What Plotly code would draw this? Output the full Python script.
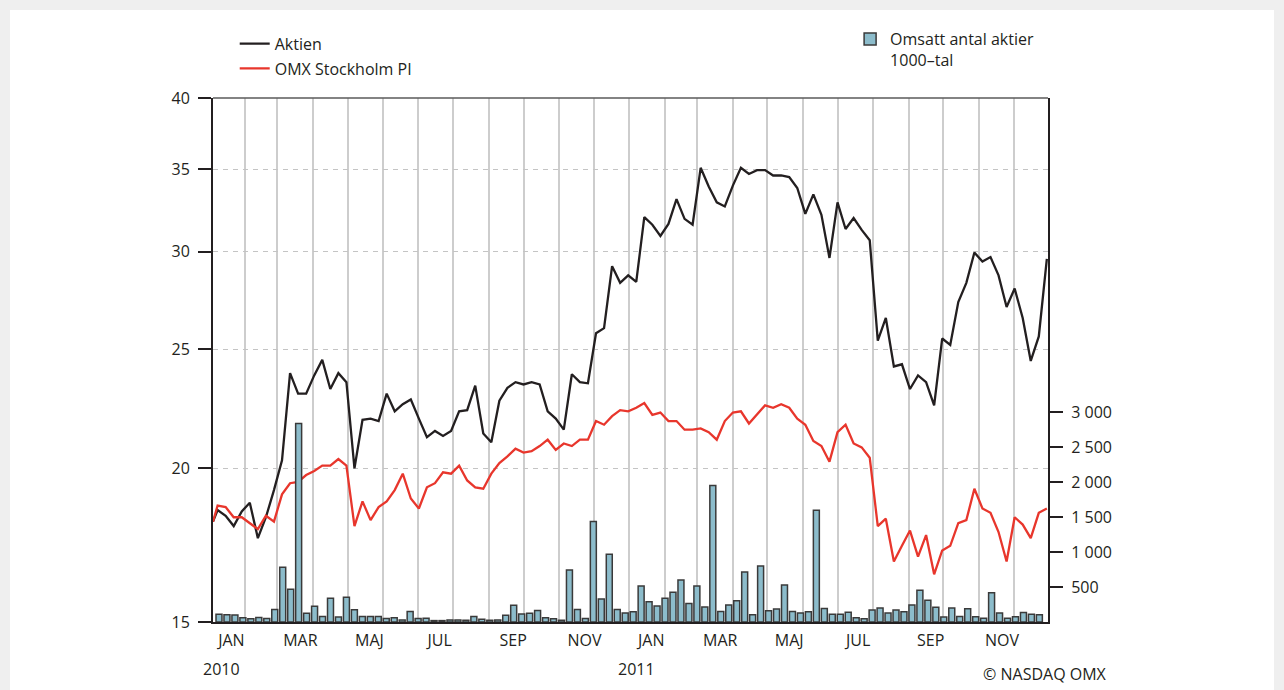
import math
import pandas as pd
import plotly.graph_objects as go

# ---------------- data ----------------
# weekly closes: first trading day 2010 + every Friday to end of 2011
line_dates = [pd.Timestamp("2010-01-04")] + list(pd.date_range("2010-01-08", "2011-12-30", freq="7D"))

aktien = [18.1, 18.5, 18.3, 17.95, 18.45, 18.75, 17.55, 18.25, 19.2, 20.3,
          23.9, 23.0, 23.0, 23.8, 24.5, 23.2, 23.9, 23.5, 20.0, 21.9,
          21.95, 21.85, 23.0, 22.25, 22.55, 22.75, 21.95, 21.2, 21.45, 21.25,
          21.45, 22.25, 22.3, 23.35, 21.35, 21.0, 22.7, 23.25, 23.5, 23.4,
          23.5, 23.4, 22.25, 21.95, 21.5, 23.85, 23.5, 23.45, 25.75, 26.0,
          29.2, 28.3, 28.7, 28.35, 32.0, 31.55, 30.9, 31.6, 33.1, 31.9,
          31.55, 35.1, 33.9, 32.9, 32.65, 33.95, 35.1, 34.7, 34.95, 34.95,
          34.6, 34.6, 34.5, 33.8, 32.2, 33.4, 32.15, 29.65, 32.9, 31.3,
          31.95, 31.25, 30.65, 25.4, 26.5, 24.2, 24.3, 23.2, 23.8, 23.5,
          22.5, 25.5, 25.2, 27.3, 28.3, 29.95, 29.45, 29.7, 28.7, 27.05,
          28.0, 26.5, 24.45, 25.6, 29.6]

omx = [18.1, 18.65, 18.6, 18.25, 18.25, 18.05, 17.85, 18.3, 18.1, 19.05,
       19.45, 19.5, 19.75, 19.9, 20.1, 20.1, 20.35, 20.1, 17.95, 18.8,
       18.15, 18.6, 18.8, 19.2, 19.8, 18.9, 18.55, 19.3, 19.45, 19.85,
       19.8, 20.1, 19.55, 19.3, 19.25, 19.8, 20.2, 20.45, 20.75, 20.6,
       20.65, 20.85, 21.1, 20.7, 20.95, 20.85, 21.1, 21.1, 21.85, 21.7,
       22.05, 22.3, 22.25, 22.4, 22.6, 22.1, 22.2, 21.85, 21.85, 21.5,
       21.5, 21.55, 21.4, 21.1, 21.85, 22.2, 22.25, 21.75, 22.1, 22.5,
       22.4, 22.55, 22.4, 21.95, 21.7, 21.05, 20.85, 20.25, 21.4, 21.7,
       20.95, 20.8, 20.4, 17.95, 18.2, 16.8, 17.3, 17.8, 16.95, 17.65,
       16.4, 17.15, 17.3, 18.05, 18.15, 19.25, 18.55, 18.4, 17.75, 16.8,
       18.25, 18.0, 17.55, 18.4, 18.55]

# weekly turnover (thousands of shares)
bar_dates = pd.date_range("2010-01-09 05:00", "2011-12-23 12:00", periods=104)
volume = [110, 105, 100, 60, 45, 65, 50, 180, 785, 470,
          2840, 125, 225, 80, 340, 70, 355, 175, 80, 80,
          80, 50, 60, 30, 150, 50, 55, 20, 20, 30,
          30, 25, 80, 40, 25, 30, 95, 240, 115, 125,
          165, 60, 45, 25, 745, 180, 50, 1440, 330, 970,
          180, 130, 145, 515, 290, 230, 340, 425, 600, 265,
          515, 215, 1955, 150, 245, 305, 715, 105, 800, 160,
          185, 530, 150, 130, 145, 1600, 195, 110, 110, 140,
          60, 45, 170, 200, 130, 170, 145, 245, 455, 310,
          210, 70, 200, 80, 190, 75, 55, 420, 130, 55,
          75, 135, 110, 105]

month_text = ["JAN", "MAR", "MAJ", "JUL", "SEP", "NOV"] * 2
month_pos = ["2010-01-20", "2010-03-21", "2010-05-20", "2010-07-20", "2010-09-22", "2010-11-23",
             "2011-01-20", "2011-03-21", "2011-05-20", "2011-07-19", "2011-09-20", "2011-11-21"]
left_ticks = [15, 20, 25, 30, 35, 40]
right_ticks = [500, 1000, 1500, 2000, 2500, 3000]
right_text = ["500", "1 000", "1 500", "2 000", "2 500", "3 000"]

# ---------------- figure ----------------
INK = "#231f20"
FONT = "Open Sans"
FS = 16

fig = go.Figure()
fig.add_trace(go.Bar(
    x=bar_dates, y=volume, yaxis="y2",
    name="Omsatt antal aktier<br>1000\u2013tal",
    marker=dict(color="#8cbccb", line=dict(color="#3a3a3a", width=1.5)),
    legend="legend2",
))
fig.add_trace(go.Scatter(
    x=line_dates, y=aktien, mode="lines", name="Aktien",
    line=dict(color=INK, width=2.3), legendgroup="a",
))
fig.add_trace(go.Scatter(
    x=line_dates, y=omx, mode="lines", name="OMX Stockholm PI",
    line=dict(color="#e8362c", width=2.3), legendgroup="b",
))

fig.update_layout(
    width=1284, height=690, autosize=False,
    margin=dict(l=213, r=236, t=98, b=68),
    paper_bgcolor="#efefef", plot_bgcolor="white",
    font=dict(family=FONT, size=FS, color=INK),
    bargap=0.25,
    showlegend=True,
    legend=dict(x=0.026, y=1.136, xanchor="left", yanchor="top",
                bgcolor="rgba(0,0,0,0)", tracegroupgap=1,
                font=dict(family=FONT, size=FS, color=INK)),
    legend2=dict(x=0.763, y=1.145, xanchor="left", yanchor="top",
                 bgcolor="rgba(0,0,0,0)", valign="top",
                 font=dict(family=FONT, size=FS, color=INK)),
    xaxis=dict(
        type="date", range=["2010-01-04", "2011-12-31"],
        tickmode="array", tickvals=month_pos, ticktext=month_text,
        ticks="", showgrid=False, zeroline=False,
        showline=True, linecolor=INK, linewidth=2, ticklabelstandoff=3,
        tickfont=dict(family=FONT, size=FS, color=INK),
        minor=dict(tickmode="linear", tick0="2010-01-01", dtick="M1",
                   showgrid=True, gridcolor="#cdcdcd", gridwidth=1.5, ticks=""),
    ),
    yaxis=dict(
        type="log", range=[math.log10(15), math.log10(40)],
        tickmode="array", tickvals=left_ticks,
        ticks="outside", ticklen=13, tickwidth=1.5, tickcolor=INK,
        showline=True, linecolor=INK, linewidth=2, ticklabelstandoff=5,
        showgrid=True, gridcolor="#c4c4c4", gridwidth=1, griddash="5px,5px",
        zeroline=False, tickfont=dict(family=FONT, size=FS, color=INK),
    ),
    yaxis2=dict(
        overlaying="y", side="right", range=[0, 7500],
        tickmode="array", tickvals=right_ticks, ticktext=right_text,
        ticks="outside", ticklen=13, tickwidth=1.5, tickcolor=INK,
        showline=True, linecolor=INK, linewidth=2, ticklabelstandoff=5,
        showgrid=False, zeroline=False,
        tickfont=dict(family=FONT, size=FS, color=INK),
    ),
    shapes=[
        dict(type="rect", xref="paper", yref="paper", x0=-0.2431, x1=1.2707,
             y0=-0.25, y1=1.168, fillcolor="white", line=dict(width=0), layer="below"),
        dict(type="line", xref="paper", yref="paper", x0=0, x1=1, y0=1, y1=1,
             line=dict(color="#5a5a5a", width=1.5)),
    ],
    annotations=[
        dict(text="2010", xref="x", yref="paper", x="2010-01-11", y=-0.115,
             showarrow=False, font=dict(family=FONT, size=FS, color=INK)),
        dict(text="2011", xref="x", yref="paper", x="2011-01-07", y=-0.115,
             showarrow=False, font=dict(family=FONT, size=FS, color=INK)),
        dict(text="\u00a9 NASDAQ OMX", xref="paper", yref="paper", x=0.9964, y=-0.124,
             xanchor="center", showarrow=False, font=dict(family=FONT, size=FS, color=INK)),
    ],
)

fig.write_html(
    "out.html",
    config={"displayModeBar": False},
    post_script="document.body.style.margin='0';document.body.style.background='#efefef';",
)
